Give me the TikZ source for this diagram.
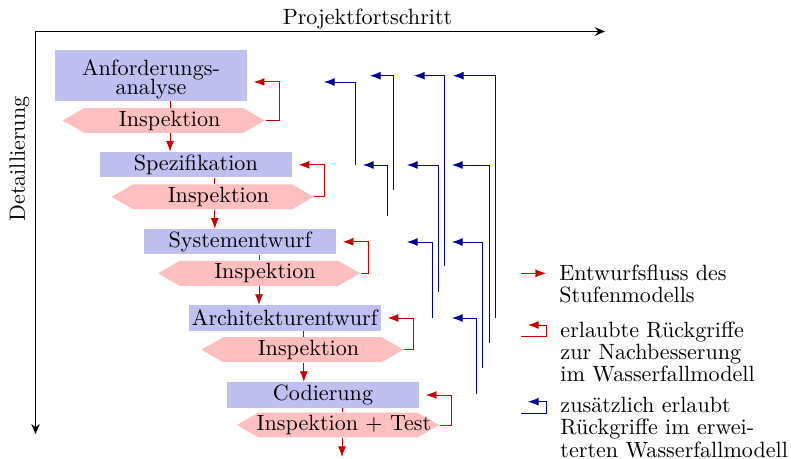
\documentclass[tikz,border=0pt]{standalone}
\usepackage{fontspec}
\usepackage{xcolor}
\usetikzlibrary{arrows.meta,shapes.symbols}

\definecolor{stufenblau}{RGB}{191,191,240}

\begin{document}
\begin{tikzpicture}[x=0.4525pt,y=-0.4525pt]
        \tikzstyle{stufe}=[fill=stufenblau, inner sep=0pt, minimum width=86.7pt, minimum height=11.45pt]
        \tikzstyle{pruefung}=[fill=red!25, signal, signal to=west and east, signal pointer angle=60, inner sep=0pt, minimum width=91.4pt, minimum height=11.3pt, execute at begin node={\hspace*{5.4pt}}]
        \tikzstyle{fluss}=[red!80!black, -{Latex}]
        \tikzstyle{rueck}=[red!80!black, -{Latex}]
        \tikzstyle{zusatz}=[blue!60!black, -{Latex}]
        \tikzstyle{legende}=[anchor=base west, align=left, inner sep=0pt]

        \useasboundingbox (0,0) rectangle (791,459);

        % Achsen
        \coordinate (ursprung) at (35.5,31.5);
        \coordinate (xende) at (605,31.5);
        \coordinate (yende) at (35.5,434);

        \draw[thick, {Stealth[length=4.5pt,width=3.8pt]}-{Stealth[length=4.5pt,width=3.8pt]}] (yende) -- (ursprung) -- (xende);

        \node[anchor=base] (xlabel) at (367.5,25) {Projektfortschritt};
        \node[rotate=90, anchor=base] (ylabel) at (25,159) {Detaillierung};

        % Stufen
        \node[stufe, minimum height=22.85pt, align=center] (anf) at (151,75.3) {\rule{0pt}{10.5pt}Anforderungs-\\[-3.4pt]analyse};
        \node[pruefung] (insp1) at (163.7,120.5) {Inspektion};

        \node[stufe] (spez) at (195.8,164.8) {Spezifikation};
        \node[pruefung] (insp2) at (212.5,196.8) {Inspektion};

        \node[stufe] (sysent) at (240,241.8) {Systementwurf};
        \node[pruefung] (insp3) at (259,273.3) {Inspektion};

        \node[stufe] (archent) at (284.8,318) {Architekturentwurf};
        \node[pruefung] (insp4) at (302.5,349.7) {Inspektion};

        \node[stufe] (cod) at (323,395) {Codierung};
        \node[pruefung, inner xsep=-10pt, execute at begin node={}] (insp5) at (338,425) {Inspektion $+$ Test};

        % Entwurfsfluss
        \foreach \b/\h/\n in {anf/insp1/spez, spez/insp2/sysent, sysent/insp3/archent, archent/insp4/cod}{
          \coordinate (f) at ([xshift=8.6pt]\b.south);
          \draw[red!80!black] (f) -- (f |- \h.north);
          \draw[fluss] (f |- \h.south) -- (f |- \n.north);
        }
        \coordinate (f) at ([xshift=8.6pt]cod.south);
        \coordinate (ende) at (342,457);
        \draw[red!80!black] (f) -- (f |- insp5.north);
        \draw[fluss] (f |- insp5.south) -- (f |- ende);

        % Rueckgriffe
        \draw[rueck] (insp1.east) -| ([xshift=14.5pt,yshift=-3pt]anf.east) -- ([xshift=3pt,yshift=-3pt]anf.east);
        \foreach \h/\b in {insp2/spez, insp3/sysent, insp4/archent, insp5/cod}
          \draw[rueck] (\h.east) -| ([xshift=14.5pt]\b.east) -- ([xshift=3pt]\b.east);

        % erweiterte Rueckgriffe
        \foreach \ax/\ay/\vx/\vy in {324/82/355/165, 370/75.7/393/190, 414/75.7/444/266, 453/75.7/495/318,
                                     363/165/387/216, 407/165/438/292, 452/165/489/343,
                                     407/242/432/318, 452/242/482/368, 452/318/476/394}
          \draw[zusatz] (\vx,\vy) |- (\ax,\ay);

        % Legende
        \coordinate (leg1) at (521,273.3);
        \draw[fluss] (leg1) -- ++(25,0);
        \node[legende] (txt1) at (559,302.3) {Entwurfsfluss des\\[-2pt]Stufenmodells};

        \coordinate (leg2) at (521,336.7);
        \draw[rueck] (leg2) -| ++(25,-11.7) -- ++(-18,0);
        \node[legende] (txt2) at (560,381.7) {erlaubte Rückgriffe\\[-2pt]zur Nachbesserung\\[-2pt]im Wasserfallmodell};

        \coordinate (leg3) at (521,413);
        \draw[zusatz] (leg3) -| ++(25,-11.3) -- ++(-18,0);
        \node[legende] (txt3) at (560,457) {zusätzlich erlaubt\\[-2pt]Rückgriffe im erwei-\\[-2pt]terten Wasserfallmodell};
      \end{tikzpicture}
\end{document}
